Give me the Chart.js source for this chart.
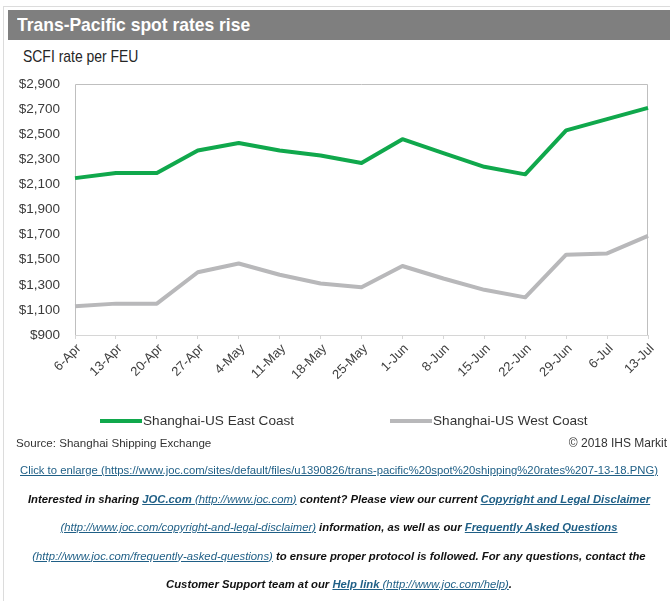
<!DOCTYPE html>
<html>
<head>
<meta charset="utf-8">
<title>Trans-Pacific spot rates rise</title>
<script src="https://cdn.jsdelivr.net/npm/chart.js@4.4.1/dist/chart.umd.min.js"></script>
<style>
  body { margin: 0; background: #fff; font-family: "Liberation Sans", Arial, sans-serif; }
  #page { position: relative; width: 670px; height: 601px; overflow: hidden; }
  #frameTop { position: absolute; left: 3px; top: 6px; right: 0; border-top: 1px solid #dcdcdc; }
  #frameLeft { position: absolute; left: 3px; top: 6px; bottom: 0; border-left: 1px solid #dcdcdc; }
  #titleBar {
    position: absolute; left: 8px; top: 10px; right: 0; height: 30px;
    background: #7f7f7f;
  }
  #titleText {
    position: absolute; left: 17px; top: 10px; line-height: 30px;
    color: #fff; font-weight: bold; font-size: 19px;
    transform: scaleX(0.92); transform-origin: left center; white-space: nowrap;
  }
  #subtitle {
    position: absolute; left: 23px; top: 47px; font-size: 17px; color: #262626;
    transform: scaleX(0.82); transform-origin: left center; white-space: nowrap;
  }
  #chartBox { position: absolute; left: 0; top: 0; width: 670px; height: 460px; }
  #source { position: absolute; left: 16px; top: 436px; font-size: 11.6px; color: #333; }
  #copy { position: absolute; right: 3px; top: 436px; font-size: 12px; color: #333; }
  #notes {
    position: absolute; left: 8px; right: 0; top: 456px; text-align: center;
    font-size: 11.3px; white-space: nowrap;
  }
  #notes p { margin: 0; line-height: 28.5px; }
  #notes a { color: #1f5f86; text-decoration: underline; }
  .em { font-weight: bold; font-style: italic; color: #111; }
  .em .url { font-weight: normal; }
</style>
</head>
<body>
<div id="page">
  <div id="frameTop"></div>
  <div id="frameLeft"></div>
  <div id="titleBar"></div>
  <div id="titleText">Trans-Pacific spot rates rise</div>
  <div id="subtitle">SCFI rate per FEU</div>
  <div id="chartBox"><canvas id="rates"></canvas></div>
  <div id="source">Source: Shanghai Shipping Exchange</div>
  <div id="copy">© 2018 IHS Markit</div>
  <div id="notes">
    <p><a>Click to enlarge (https://www.joc.com/sites/default/files/u1390826/trans-pacific%20spot%20shipping%20rates%207-13-18.PNG)</a></p>
    <p class="em">Interested in sharing <a>JOC.com <span class="url">(http://www.joc.com)</span></a> content? Please view our current <a>Copyright and Legal Disclaimer</a></p>
    <p class="em"><a><span class="url">(http://www.joc.com/copyright-and-legal-disclaimer)</span></a> information, as well as our <a>Frequently Asked Questions</a></p>
    <p class="em"><a><span class="url">(http://www.joc.com/frequently-asked-questions)</span></a> to ensure proper protocol is followed. For any questions, contact the</p>
    <p class="em">Customer Support team at our <a>Help link <span class="url">(http://www.joc.com/help)</span></a>.</p>
  </div>
</div>
<script>
const weeks = ['6-Apr', '13-Apr', '20-Apr', '27-Apr', '4-May', '11-May', '18-May', '25-May',
  '1-Jun', '8-Jun', '15-Jun', '22-Jun', '29-Jun', '6-Jul', '13-Jul'];
const eastCoast = [2150, 2190, 2190, 2370, 2430, 2370, 2330, 2270, 2460, 2350, 2240, 2180, 2530, 2620, 2710];
const westCoast = [1130, 1150, 1150, 1400, 1470, 1380, 1310, 1280, 1450, 1350, 1260, 1200, 1540, 1550, 1690];
const yTicks = [900, 1100, 1300, 1500, 1700, 1900, 2100, 2300, 2500, 2700, 2900];

const FONT = '"Liberation Sans", Arial, sans-serif';
const LEGEND_Y = 421;
const LEGEND_X = [100, 390];

// box around the plot area plus the line legend under the axis
const framePlugin = {
  id: 'frame',
  beforeDatasetsDraw(chart) {
    const { ctx, chartArea: a } = chart;
    ctx.save();
    ctx.strokeStyle = '#bfbfbf';
    ctx.lineWidth = 1;
    ctx.beginPath();
    ctx.moveTo(a.left + 0.5, a.bottom);
    ctx.lineTo(a.left + 0.5, a.top + 0.5);
    ctx.lineTo(a.right - 0.5, a.top + 0.5);
    ctx.lineTo(a.right - 0.5, a.bottom);
    ctx.stroke();
    ctx.restore();
  },
  afterDraw(chart) {
    const { ctx } = chart;
    ctx.save();
    ctx.font = `13.6px ${FONT}`;
    ctx.textBaseline = 'middle';
    chart.data.datasets.forEach((ds, i) => {
      const x = LEGEND_X[i];
      ctx.strokeStyle = ds.borderColor;
      ctx.lineWidth = 4;
      ctx.beginPath();
      ctx.moveTo(x, LEGEND_Y);
      ctx.lineTo(x + 42, LEGEND_Y);
      ctx.stroke();
      ctx.fillStyle = '#333';
      ctx.fillText(ds.label, x + 43, LEGEND_Y);
    });
    ctx.restore();
  },
};

new Chart(document.getElementById('rates'), {
  type: 'line',
  data: {
    labels: weeks,
    datasets: [
      {
        label: 'Shanghai-US East Coast',
        data: eastCoast,
        borderColor: '#10a84c',
        borderWidth: 4,
        pointRadius: 0,
        tension: 0,
        borderJoinStyle: 'round',
      },
      {
        label: 'Shanghai-US West Coast',
        data: westCoast,
        borderColor: '#b8b8ba',
        borderWidth: 4,
        pointRadius: 0,
        tension: 0,
        borderJoinStyle: 'round',
      },
    ],
  },
  options: {
    responsive: true,
    maintainAspectRatio: false,
    animation: false,
    layout: { padding: { top: 84, left: 0, right: 22, bottom: 0 } },
    plugins: {
      legend: { display: false },
      tooltip: { enabled: false },
    },
    scales: {
      x: {
        offset: false,
        grid: { drawOnChartArea: false, drawTicks: true, tickLength: 4, color: '#d6d6d6' },
        border: { color: '#d6d6d6' },
        ticks: {
          autoSkip: false,
          minRotation: 45,
          maxRotation: 45,
          padding: 2,
          labelOffset: 4,
          color: '#404040',
          font: { family: FONT, size: 13 },
        },
        afterFit(scale) { scale.height = 125; },
      },
      y: {
        min: 900,
        max: 2900,
        grid: { display: false, drawTicks: false },
        border: { display: false },
        ticks: {
          padding: 15,
          color: '#3a3a3a',
          font: { family: FONT, size: 13.5 },
          callback: (v) => '$' + Number(v).toLocaleString('en-US'),
        },
        afterBuildTicks(scale) { scale.ticks = yTicks.map((v) => ({ value: v })); },
        afterFit(scale) { scale.width = 75; },
      },
    },
  },
  plugins: [framePlugin],
});
</script>
</body>
</html>
